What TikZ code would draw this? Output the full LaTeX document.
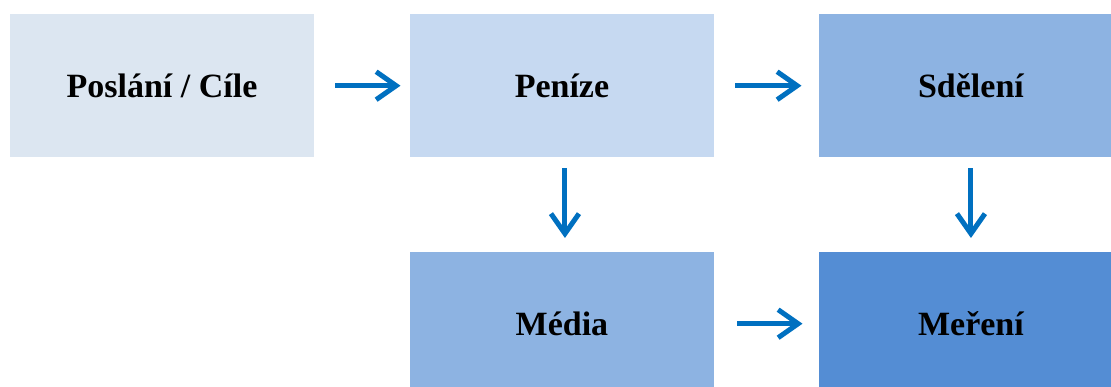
\documentclass[tikz,border=0pt]{standalone}
\usepackage{fontspec}
\setmainfont{Liberation Serif}
\usetikzlibrary{arrows.meta}
\definecolor{boxA}{HTML}{DCE6F1}
\definecolor{boxB}{HTML}{C6D9F1}
\definecolor{boxC}{HTML}{8DB3E2}
\definecolor{boxD}{HTML}{548DD4}
\definecolor{arrowblue}{HTML}{0070C0}
\tikzset{
  stage/.style={draw=none, minimum width=304.5pt, minimum height=143pt,
    inner sep=0pt, anchor=north west,
    font=\fontsize{34}{40}\selectfont\bfseries, text=black},
  flow/.style={draw=arrowblue, line width=5pt,
    -{Straight Barb[length=20pt, width=28pt]}}
}
\begin{document}
\begin{tikzpicture}[x=1pt, y=-1pt]
  \useasboundingbox (0,0) rectangle (1111,387);
  \clip (0,0) rectangle (1111,387);
  % top row
  \node[stage, fill=boxA] (mise)    at (9.5,14)  {Poslání / Cíle};
  \node[stage, fill=boxB] (penize)  at (409.5,14) {Peníze};
  \node[stage, fill=boxC] (sdeleni) at (818.5,14) {Sdělení};
  % bottom row
  \node[stage, fill=boxC] (media)   at (409.5,252) {Média};
  \node[stage, fill=boxD] (mereni)  at (818.5,252) {Meření};
  % connectors
  \draw[flow, shorten <=21pt, shorten >=9pt] (mise.east) -- (penize.west);
  \draw[flow, shorten <=21pt, shorten >=17pt] (penize.east) -- (sdeleni.west);
  \draw[flow, shorten <=11pt, shorten >=14pt] ([xshift=3pt]penize.south) -- ([xshift=3pt]media.north);
  \draw[flow, shorten <=11pt, shorten >=14pt] (sdeleni.south) -- (sdeleni.south |- mereni.north);
  \draw[flow, shorten <=23pt, shorten >=16pt] (media.east) -- (mereni.west);
\end{tikzpicture}
\end{document}
